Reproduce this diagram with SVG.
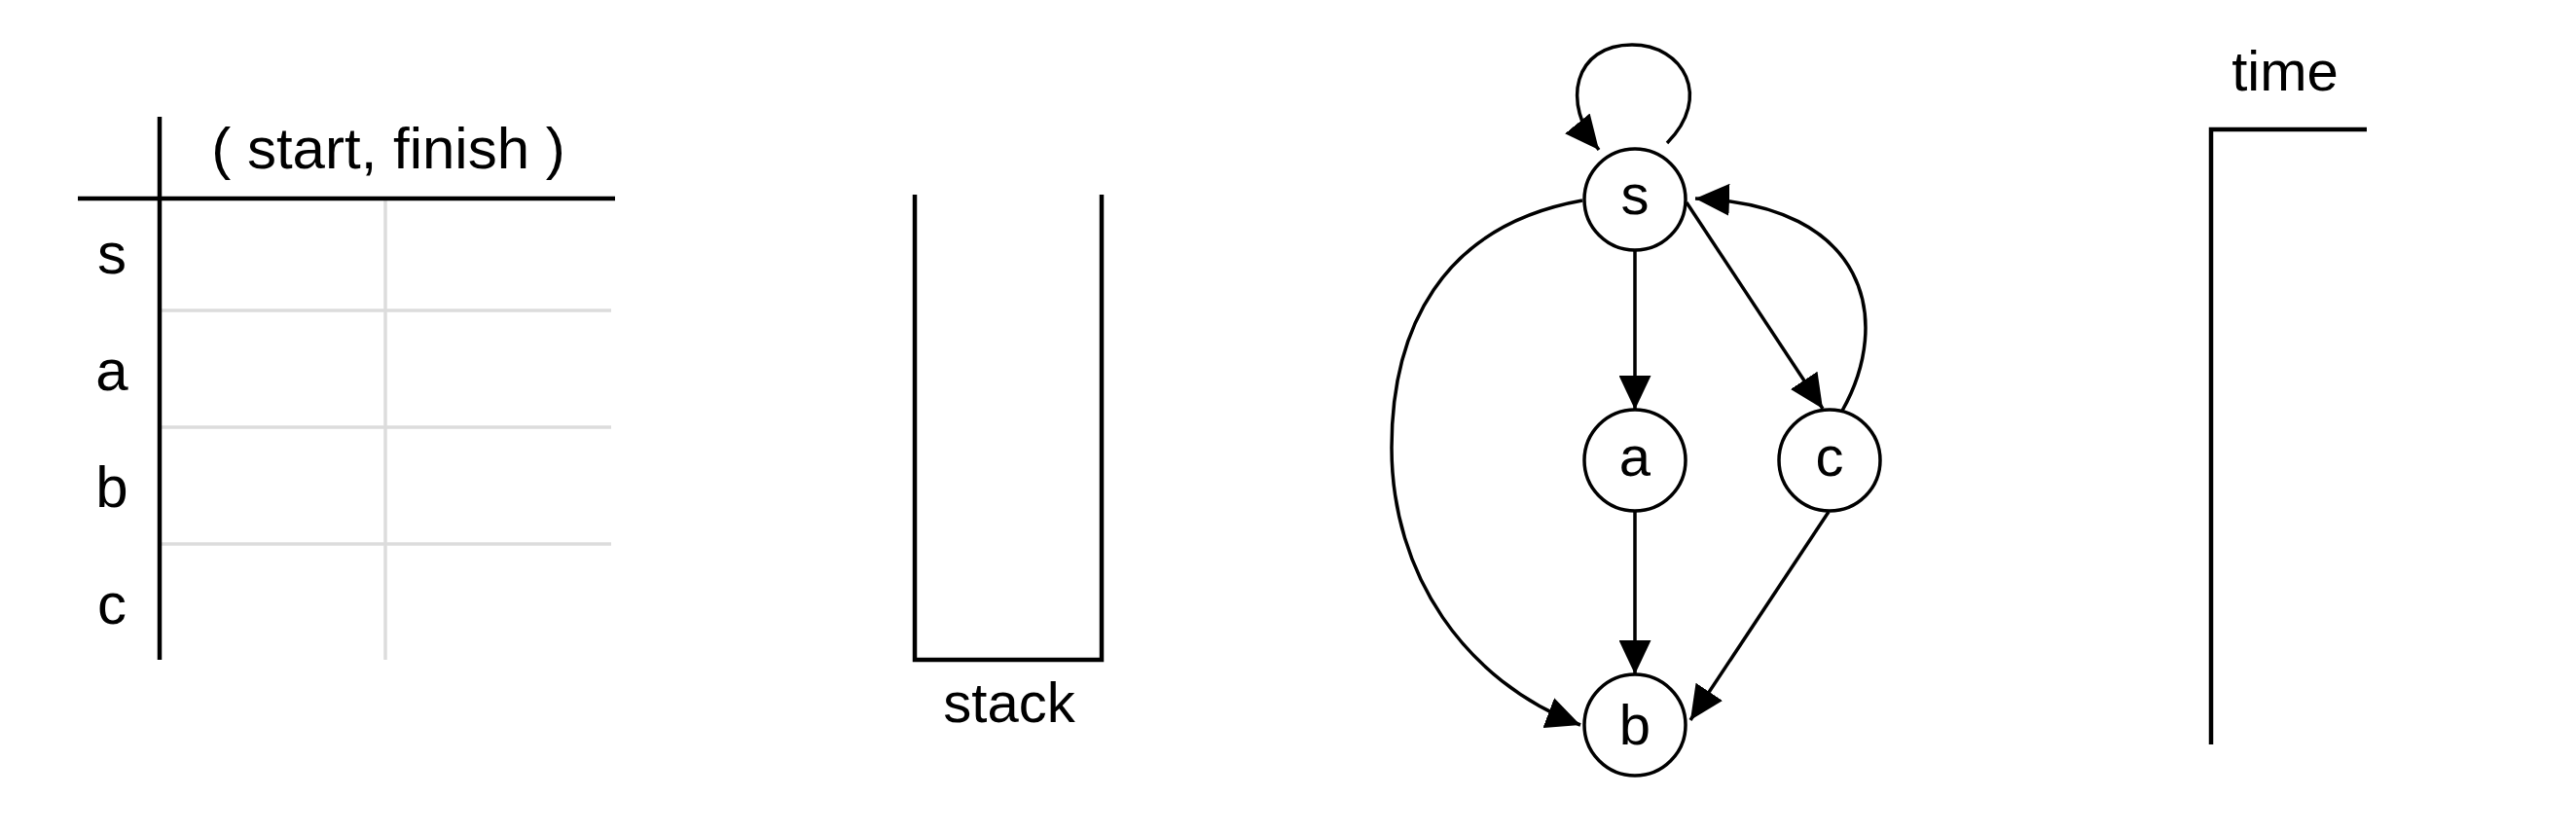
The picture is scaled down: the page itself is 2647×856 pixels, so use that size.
<svg xmlns="http://www.w3.org/2000/svg" width="2647" height="856" viewBox="0 0 2647 856">
<style>
  .txt { font-family: "Liberation Sans", Arial, sans-serif; fill: #000; text-anchor: middle; }
  .t60 { font-size: 60px; }
  .t58 { font-size: 58px; }
  .blk { stroke: #000; stroke-width: 4.5; fill: none; }
  .gry { stroke: #dcdcdc; stroke-width: 3.5; fill: none; }
  .node { fill: #fff; stroke: #000; stroke-width: 3.5; }
  .edge { fill: none; stroke: #000; stroke-width: 3.5; marker-end: url(#arrow); }
</style>
<defs>
  <marker id="arrow" markerUnits="userSpaceOnUse" markerWidth="35" markerHeight="33" viewBox="0 0 35 33" refX="35" refY="16.5" orient="auto">
    <path d="M0,0 L35,16.5 L0,33 Z" fill="#000"/>
  </marker>
</defs>
<rect width="2647" height="856" fill="#fff"/>

<g id="table">
  <line class="gry" x1="166" y1="319" x2="628" y2="319"/>
  <line class="gry" x1="166" y1="439" x2="628" y2="439"/>
  <line class="gry" x1="166" y1="559" x2="628" y2="559"/>
  <line class="gry" x1="396" y1="206" x2="396" y2="678"/>
  <line class="blk" x1="164" y1="120" x2="164" y2="678"/>
  <line class="blk" x1="80" y1="204" x2="632" y2="204"/>
  <text class="txt t60" x="399" y="173">( start, finish )</text>
  <text class="txt t60" x="115" y="281">s</text>
  <text class="txt t60" x="115" y="401">a</text>
  <text class="txt t60" x="115" y="521">b</text>
  <text class="txt t60" x="115" y="641">c</text>
</g>

<g id="stack">
  <path class="blk" d="M940,200 V678 H1132 V200"/>
  <text class="txt t58" x="1037" y="742">stack</text>
</g>

<g id="time">
  <path class="blk" d="M2272,765 V133 H2432"/>
  <text class="txt t58" x="2348" y="93">time</text>
</g>

<g id="connectors">
  <path class="edge" d="M1713,147 C1760,100 1730,46 1677,46 C1618,46 1603,105 1643,154"/>
  <line class="edge" x1="1680" y1="257" x2="1680" y2="421"/>
  <line class="edge" x1="1680" y1="525" x2="1680" y2="693"/>
  <line class="edge" x1="1733" y1="208" x2="1873" y2="420"/>
  <path class="edge" d="M1893,422 C1945,330 1920,210 1742,204"/>
  <path class="edge" d="M1626,206 C1480,232 1430,340 1430,460 C1430,590 1505,700 1624,745"/>
  <line class="edge" x1="1879" y1="526" x2="1737" y2="740"/>
</g>

<g id="node-s">
  <circle class="node" cx="1680" cy="205" r="52"/>
  <text class="txt t58" x="1680" y="220">s</text>
</g>
<g id="node-a">
  <circle class="node" cx="1680" cy="473" r="52"/>
  <text class="txt t58" x="1680" y="489">a</text>
</g>
<g id="node-c">
  <circle class="node" cx="1880" cy="473" r="52"/>
  <text class="txt t58" x="1880" y="489">c</text>
</g>
<g id="node-b">
  <circle class="node" cx="1680" cy="745" r="52"/>
  <text class="txt t58" x="1680" y="765">b</text>
</g>
</svg>
